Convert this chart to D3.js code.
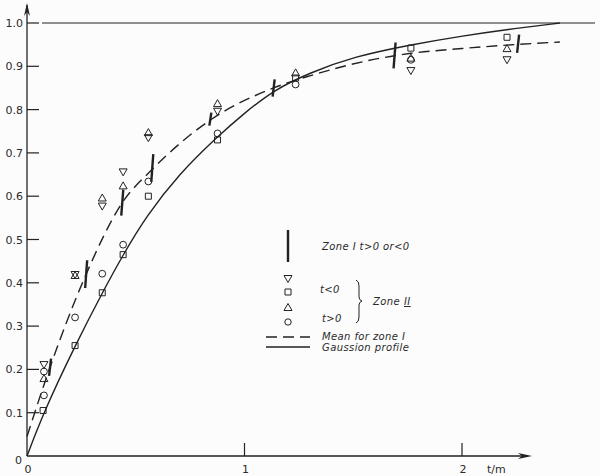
<!DOCTYPE html>
<html>
<head>
<meta charset="utf-8">
<script src="https://cdn.jsdelivr.net/npm/d3@7"></script>
<style>
  body { margin: 0; background: #fcfcfc; }
  svg { display: block; }
  .tick-lbl { font-family: "DejaVu Sans", sans-serif; font-size: 11px; fill: #2a2a2a; }
  .lg { font-family: "DejaVu Sans", sans-serif; font-size: 10px; font-style: italic; fill: #2a2a2a; letter-spacing: 0.4px; }
</style>
</head>
<body>
<div id="chart"></div>
<script>
(function(){
  // tick labels
  const yTicks = [0.1, 0.2, 0.3, 0.4, 0.5, 0.6, 0.7, 0.8, 0.9, 1.0];
  const xTicks = [1, 2];

  // zone I (t>0 or <0): mean value and half range of each bar
  const barX = [0.106, 0.272, 0.438, 0.576, 0.843, 1.134, 1.69, 2.258];
  const barY = [0.205, 0.42, 0.585, 0.665, 0.778, 0.85, 0.925, 0.952];
  const barHalf = [0.02, 0.032, 0.03, 0.032, 0.015, 0.02, 0.03, 0.021];

  // zone II, t<0
  const downTriX = [0.078, 0.221, 0.346, 0.442, 0.558, 0.876, 1.765, 2.207];
  const downTriY = [0.21, 0.418, 0.576, 0.655, 0.734, 0.795, 0.889, 0.914];
  const squareX = [0.074, 0.221, 0.346, 0.442, 0.558, 0.876, 1.235, 1.765, 2.207];
  const squareY = [0.105, 0.255, 0.377, 0.465, 0.60, 0.73, 0.873, 0.942, 0.967];

  // zone II, t>0
  const upTriX = [0.078, 0.221, 0.346, 0.442, 0.558, 0.876, 1.235, 1.765, 2.207];
  const upTriY = [0.18, 0.418, 0.597, 0.625, 0.748, 0.815, 0.886, 0.92, 0.942];
  const circleX = [0.078, 0.078, 0.221, 0.346, 0.442, 0.558, 0.876, 1.235, 1.765];
  const circleY = [0.195, 0.14, 0.32, 0.421, 0.488, 0.634, 0.745, 0.858, 0.915];

  // mean for zone I (dashed)
  const meanX = [0, 0.106, 0.272, 0.438, 0.576, 0.843, 1.134, 1.3, 1.627, 1.765, 2.0, 2.207, 2.45];
  const meanY = [0.045, 0.205, 0.42, 0.585, 0.662, 0.776, 0.85, 0.878, 0.919, 0.93, 0.941, 0.949, 0.956];

  // gaussian profile (solid)
  const gaussX = [0, 0.08, 0.221, 0.346, 0.442, 0.55, 0.7, 0.876, 1.0, 1.134, 1.3, 1.5, 1.765, 2.0, 2.207, 2.45];
  const gaussY = [0, 0.105, 0.255, 0.377, 0.465, 0.555, 0.652, 0.738, 0.792, 0.845, 0.885, 0.922, 0.95, 0.97, 0.985, 1.0];

  const width = 600, height = 476;
  const ink = '#222';

  const svg = d3.select('#chart').append('svg')
    .attr('width', width)
    .attr('height', height);

  const x = d3.scaleLinear().domain([0, 2]).range([27, 462]);
  const y = d3.scaleLinear().domain([0, 1]).range([456, 23]);

  // axes
  svg.append('line').attr('x1', x(0)).attr('y1', y(0)).attr('x2', 528).attr('y2', y(0))
    .attr('stroke', ink).attr('stroke-width', 1.3);
  svg.append('line').attr('x1', x(0)).attr('y1', y(0)).attr('x2', x(0)).attr('y2', 5)
    .attr('stroke', ink).attr('stroke-width', 1.3);
  // arrow heads
  svg.append('path')
    .attr('d', `M${x(0)},3 L${x(0) - 3},16 L${x(0)},12 L${x(0) + 3},16 Z`)
    .attr('fill', ink);
  svg.append('path')
    .attr('d', `M532,${y(0)} L518,${y(0) - 3} L522,${y(0)} L518,${y(0) + 3} Z`)
    .attr('fill', ink);

  // line at 1.0
  svg.append('line').attr('x1', x(0) + 15).attr('y1', y(1)).attr('x2', 595).attr('y2', y(1))
    .attr('stroke', ink).attr('stroke-width', 1.2);

  // y ticks (inside, to the right)
  svg.selectAll('.ytick').data(yTicks).enter().append('line')
    .attr('x1', x(0)).attr('x2', x(0) + 12)
    .attr('y1', d => y(d)).attr('y2', d => y(d))
    .attr('stroke', ink).attr('stroke-width', 1.2);
  svg.selectAll('.ylbl').data(yTicks).enter().append('text')
    .attr('class', 'tick-lbl')
    .attr('x', 23).attr('y', d => y(d) + 4)
    .attr('text-anchor', 'end')
    .text(d => d.toFixed(1));
  svg.append('text').attr('class', 'tick-lbl').attr('x', 22).attr('y', y(0) + 8)
    .attr('text-anchor', 'end').text('0');

  // x ticks
  svg.selectAll('.xtick').data(xTicks).enter().append('line')
    .attr('x1', d => x(d)).attr('x2', d => x(d))
    .attr('y1', y(0)).attr('y2', y(0) - 13)
    .attr('stroke', ink).attr('stroke-width', 1.2);
  svg.selectAll('.xlbl').data([0].concat(xTicks)).enter().append('text')
    .attr('class', 'tick-lbl')
    .attr('x', d => x(d) + 1).attr('y', 473)
    .attr('text-anchor', 'middle')
    .text(d => d);
  svg.append('text').attr('class', 'tick-lbl').attr('x', 487).attr('y', 473).text('t/m');

  // curves
  const line = d3.line().curve(d3.curveMonotoneX)
    .x(d => x(d[0])).y(d => y(d[1]));
  const smooth = d3.line().curve(d3.curveBasis)
    .x(d => x(d[0])).y(d => y(d[1]));

  svg.append('path')
    .attr('d', smooth(d3.zip(gaussX, gaussY)))
    .attr('fill', 'none').attr('stroke', ink).attr('stroke-width', 1.4);

  svg.append('path')
    .attr('d', line(d3.zip(meanX, meanY)))
    .attr('fill', 'none').attr('stroke', ink).attr('stroke-width', 1.4)
    .attr('stroke-dasharray', '11,6');

  // zone I bars
  svg.selectAll('.bar').data(d3.zip(barX, barY, barHalf)).enter().append('line')
    .attr('x1', d => x(d[0]) - 1).attr('x2', d => x(d[0]) + 1)
    .attr('y1', d => y(d[1] - d[2])).attr('y2', d => y(d[1] + d[2]))
    .attr('stroke', ink).attr('stroke-width', 2.4);

  // markers
  const tw = 8, th = 7;
  const upPath = `M0,${-th / 2} L${tw / 2},${th / 2} L${-tw / 2},${th / 2} Z`;
  const downPath = `M0,${th / 2} L${tw / 2},${-th / 2} L${-tw / 2},${-th / 2} Z`;
  const sqPath = 'M-3,-3 H3 V3 H-3 Z';

  function markers(xs, ys, draw) {
    d3.zip(xs, ys).forEach(d => {
      const g = svg.append('g').attr('transform', `translate(${x(d[0])},${y(d[1])})`);
      draw(g);
    });
  }
  const style = s => s.attr('fill', 'none').attr('stroke', ink).attr('stroke-width', 1);

  markers(downTriX, downTriY, g => style(g.append('path').attr('d', downPath)));
  markers(upTriX, upTriY, g => style(g.append('path').attr('d', upPath)));
  markers(squareX, squareY, g => style(g.append('path').attr('d', sqPath)));
  markers(circleX, circleY, g => style(g.append('circle').attr('r', 3.4)));

  /**
   * Legend
   */
  const lg = svg.append('g');
  lg.append('line').attr('x1', 288).attr('x2', 288).attr('y1', 230).attr('y2', 262)
    .attr('stroke', ink).attr('stroke-width', 2.4);
  lg.append('text').attr('class', 'lg').attr('x', 322).attr('y', 250)
    .text('Zone I  t>0 or<0');

  lg.append('path').attr('transform', 'translate(288,279)').attr('d', downPath)
    .attr('fill', 'none').attr('stroke', ink);
  lg.append('path').attr('transform', 'translate(288,292)').attr('d', sqPath)
    .attr('fill', 'none').attr('stroke', ink);
  lg.append('path').attr('transform', 'translate(288,307)').attr('d', upPath)
    .attr('fill', 'none').attr('stroke', ink);
  lg.append('circle').attr('cx', 288).attr('cy', 322).attr('r', 3.2)
    .attr('fill', 'none').attr('stroke', ink);

  lg.append('text').attr('class', 'lg').attr('x', 320).attr('y', 293).text('t<0');
  lg.append('text').attr('class', 'lg').attr('x', 322).attr('y', 322).text('t>0');
  lg.append('path')
    .attr('d', 'M356,280 Q359,281 359,286 L359,297 Q359,300 362,301 Q359,302 359,305 L359,317 Q359,322 356,323')
    .attr('fill', 'none').attr('stroke', ink).attr('stroke-width', 1);
  lg.append('text').attr('class', 'lg').attr('x', 373).attr('y', 305).text('Zone ');
  lg.append('text').attr('class', 'lg').attr('x', 404).attr('y', 305)
    .style('text-decoration', 'underline').text('II');

  lg.append('line').attr('x1', 266).attr('x2', 310).attr('y1', 337).attr('y2', 337)
    .attr('stroke', ink).attr('stroke-width', 1.4).attr('stroke-dasharray', '11,6');
  lg.append('text').attr('class', 'lg').attr('x', 322).attr('y', 340).text('Mean for zone I');
  lg.append('line').attr('x1', 266).attr('x2', 310).attr('y1', 347).attr('y2', 347)
    .attr('stroke', ink).attr('stroke-width', 1.4);
  lg.append('text').attr('class', 'lg').attr('x', 322).attr('y', 351).text('Gaussion profile');
})();
</script>
</body>
</html>
